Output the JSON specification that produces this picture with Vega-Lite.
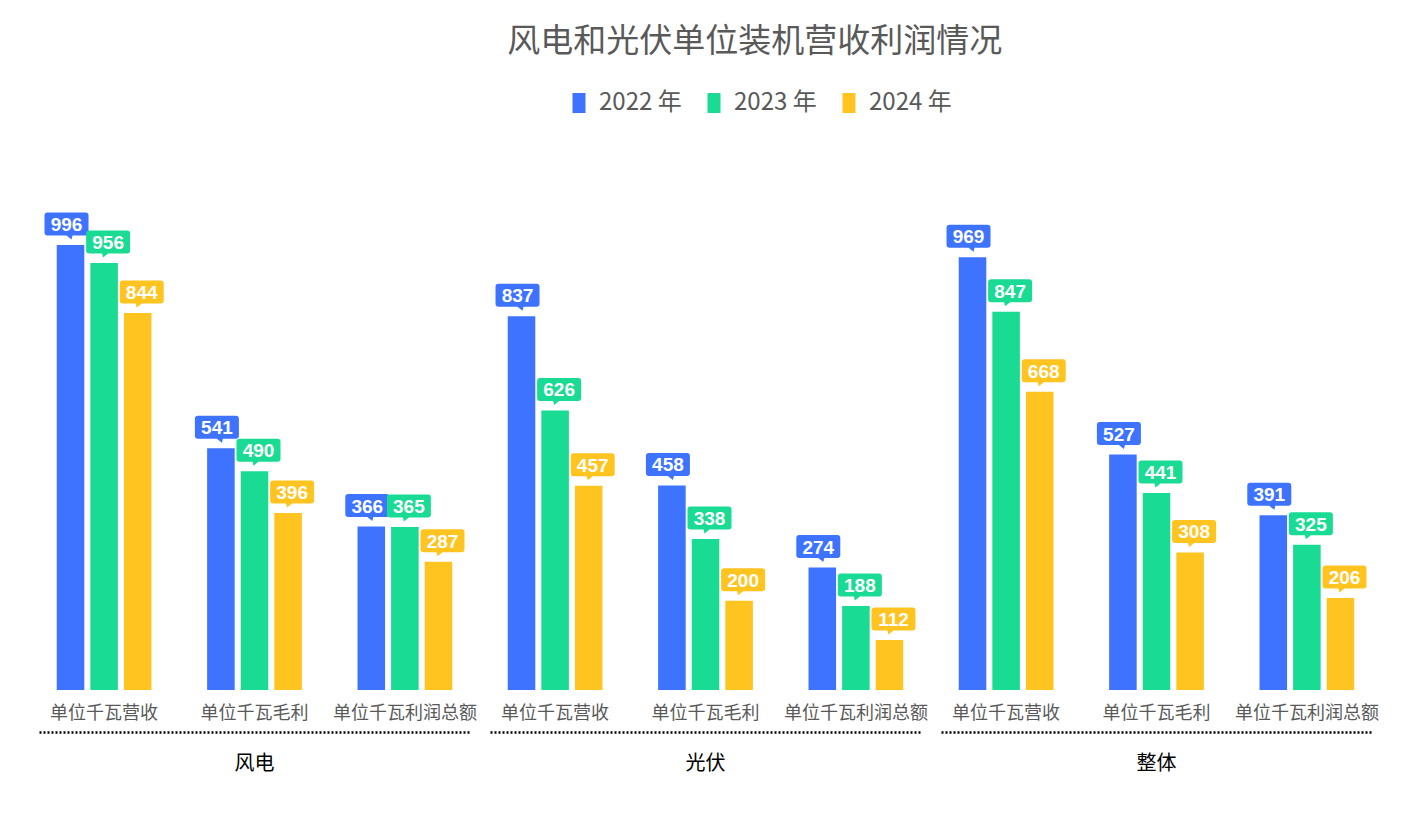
{
  "$schema": "https://vega.github.io/schema/vega-lite/v6.json",
  "background": "white",
  "padding": {"left": 39, "top": 26, "right": 17, "bottom": 5},
  "title": {"text": "风电和光伏单位装机营收利润情况", "fontSize": 33, "font": "Noto Sans CJK SC", "fontWeight": "normal", "color": "#595959", "anchor": "middle", "dx": 46, "offset": 32},
  "data": {"values": [
    {"group": "风电", "metric": "单位千瓦营收", "year": "2022 年", "value": 996},
    {"group": "风电", "metric": "单位千瓦营收", "year": "2023 年", "value": 956},
    {"group": "风电", "metric": "单位千瓦营收", "year": "2024 年", "value": 844},
    {"group": "风电", "metric": "单位千瓦毛利", "year": "2022 年", "value": 541},
    {"group": "风电", "metric": "单位千瓦毛利", "year": "2023 年", "value": 490},
    {"group": "风电", "metric": "单位千瓦毛利", "year": "2024 年", "value": 396},
    {"group": "风电", "metric": "单位千瓦利润总额", "year": "2022 年", "value": 366},
    {"group": "风电", "metric": "单位千瓦利润总额", "year": "2023 年", "value": 365},
    {"group": "风电", "metric": "单位千瓦利润总额", "year": "2024 年", "value": 287},
    {"group": "光伏", "metric": "单位千瓦营收", "year": "2022 年", "value": 837},
    {"group": "光伏", "metric": "单位千瓦营收", "year": "2023 年", "value": 626},
    {"group": "光伏", "metric": "单位千瓦营收", "year": "2024 年", "value": 457},
    {"group": "光伏", "metric": "单位千瓦毛利", "year": "2022 年", "value": 458},
    {"group": "光伏", "metric": "单位千瓦毛利", "year": "2023 年", "value": 338},
    {"group": "光伏", "metric": "单位千瓦毛利", "year": "2024 年", "value": 200},
    {"group": "光伏", "metric": "单位千瓦利润总额", "year": "2022 年", "value": 274},
    {"group": "光伏", "metric": "单位千瓦利润总额", "year": "2023 年", "value": 188},
    {"group": "光伏", "metric": "单位千瓦利润总额", "year": "2024 年", "value": 112},
    {"group": "整体", "metric": "单位千瓦营收", "year": "2022 年", "value": 969},
    {"group": "整体", "metric": "单位千瓦营收", "year": "2023 年", "value": 847},
    {"group": "整体", "metric": "单位千瓦营收", "year": "2024 年", "value": 668},
    {"group": "整体", "metric": "单位千瓦毛利", "year": "2022 年", "value": 527},
    {"group": "整体", "metric": "单位千瓦毛利", "year": "2023 年", "value": 441},
    {"group": "整体", "metric": "单位千瓦毛利", "year": "2024 年", "value": 308},
    {"group": "整体", "metric": "单位千瓦利润总额", "year": "2022 年", "value": 391},
    {"group": "整体", "metric": "单位千瓦利润总额", "year": "2023 年", "value": 325},
    {"group": "整体", "metric": "单位千瓦利润总额", "year": "2024 年", "value": 206}
  ]},
  "facet": {
    "column": {
      "field": "group", "type": "nominal", "sort": ["风电", "光伏", "整体"], "title": null,
      "header": {"labelOrient": "bottom", "labelFontSize": 20, "labelColor": "#000000", "labelFont": "Noto Sans CJK SC", "labelPadding": 22}
    }
  },
  "spacing": 20,
  "resolve": {"legend": {"shape": "independent"}},
  "spec": {
    "width": 431,
    "height": 536,
    "encoding": {
      "x": {
        "field": "metric", "type": "nominal", "sort": ["单位千瓦营收", "单位千瓦毛利", "单位千瓦利润总额"],
        "scale": {"paddingInner": 0.37, "paddingOuter": 0.118},
        "axis": {"title": null, "labelAngle": 0, "labelFontSize": 18, "labelFont": "Noto Sans CJK SC", "labelColor": "#595959", "ticks": false, "tickSize": 0, "offset": 42, "labelPadding": -28, "domain": true, "domainColor": "#000000", "domainWidth": 2.5, "domainDash": [2, 2]}
      },
      "xOffset": {"field": "year", "type": "nominal", "scale": {"paddingInner": 0.18}},
      "y": {"field": "value", "type": "quantitative", "scale": {"domain": [0, 1200], "nice": false}, "axis": null},
      "color": {
        "field": "year", "type": "nominal",
        "scale": {"domain": ["2022 年", "2023 年", "2024 年"], "range": ["#3D73FF", "#1ADB93", "#FFC41F"]},
        "legend": {"orient": "none", "legendX": 528, "legendY": -63, "direction": "horizontal", "title": null, "labelFontSize": 24, "labelColor": "#595959", "labelFont": "Noto Sans CJK SC", "symbolType": "M-0.65,-1H0.65V1H-0.65Z", "symbolSize": 400, "symbolOpacity": 1, "symbolStrokeWidth": 0, "columnPadding": 20, "labelOffset": 8}
      }
    },
    "resolve": {"legend": {"shape": "independent"}},
    "layer": [
      {"mark": {"type": "bar"}},
      {
        "mark": {"type": "point", "size": 400, "filled": true, "opacity": 1, "strokeWidth": 0, "yOffset": -21},
        "encoding": {
          "shape": {"field": "year", "type": "nominal", "legend": null,
            "scale": {"domain": ["2022 年", "2023 年", "2024 年"], "range": [
              "M-2.3,-1.15H1.5Q1.8,-1.15 1.8,-0.85V0.85Q1.8,1.15 1.5,1.15H0.2L0.1,1.55L-0.4,1.15H-2.3Q-2.6,1.15 -2.6,0.85V-0.85Q-2.6,-1.15 -2.3,-1.15Z",
              "M-1.5,-1.15H2.3Q2.6,-1.15 2.6,-0.85V0.85Q2.6,1.15 2.3,1.15H0.4L-0.1,1.55L-0.2,1.15H-1.5Q-1.8,1.15 -1.8,0.85V-0.85Q-1.8,-1.15 -1.5,-1.15Z",
              "M-1.5,-1.15H2.3Q2.6,-1.15 2.6,-0.85V0.85Q2.6,1.15 2.3,1.15H0.4L-0.1,1.55L-0.2,1.15H-1.5Q-1.8,1.15 -1.8,0.85V-0.85Q-1.8,-1.15 -1.5,-1.15Z"
            ]}}
        }
      },
      {"mark": {"type": "text", "fontWeight": "bold", "fontSize": 19, "font": "Liberation Sans", "baseline": "middle", "yOffset": -20, "dx": {"expr": "datum.year === '2022 年' ? -4 : 4"}}, "encoding": {"text": {"field": "value", "type": "quantitative"}, "color": {"value": "#FFFFFF"}}}
    ]
  },
  "config": {"view": {"stroke": null}}
}
